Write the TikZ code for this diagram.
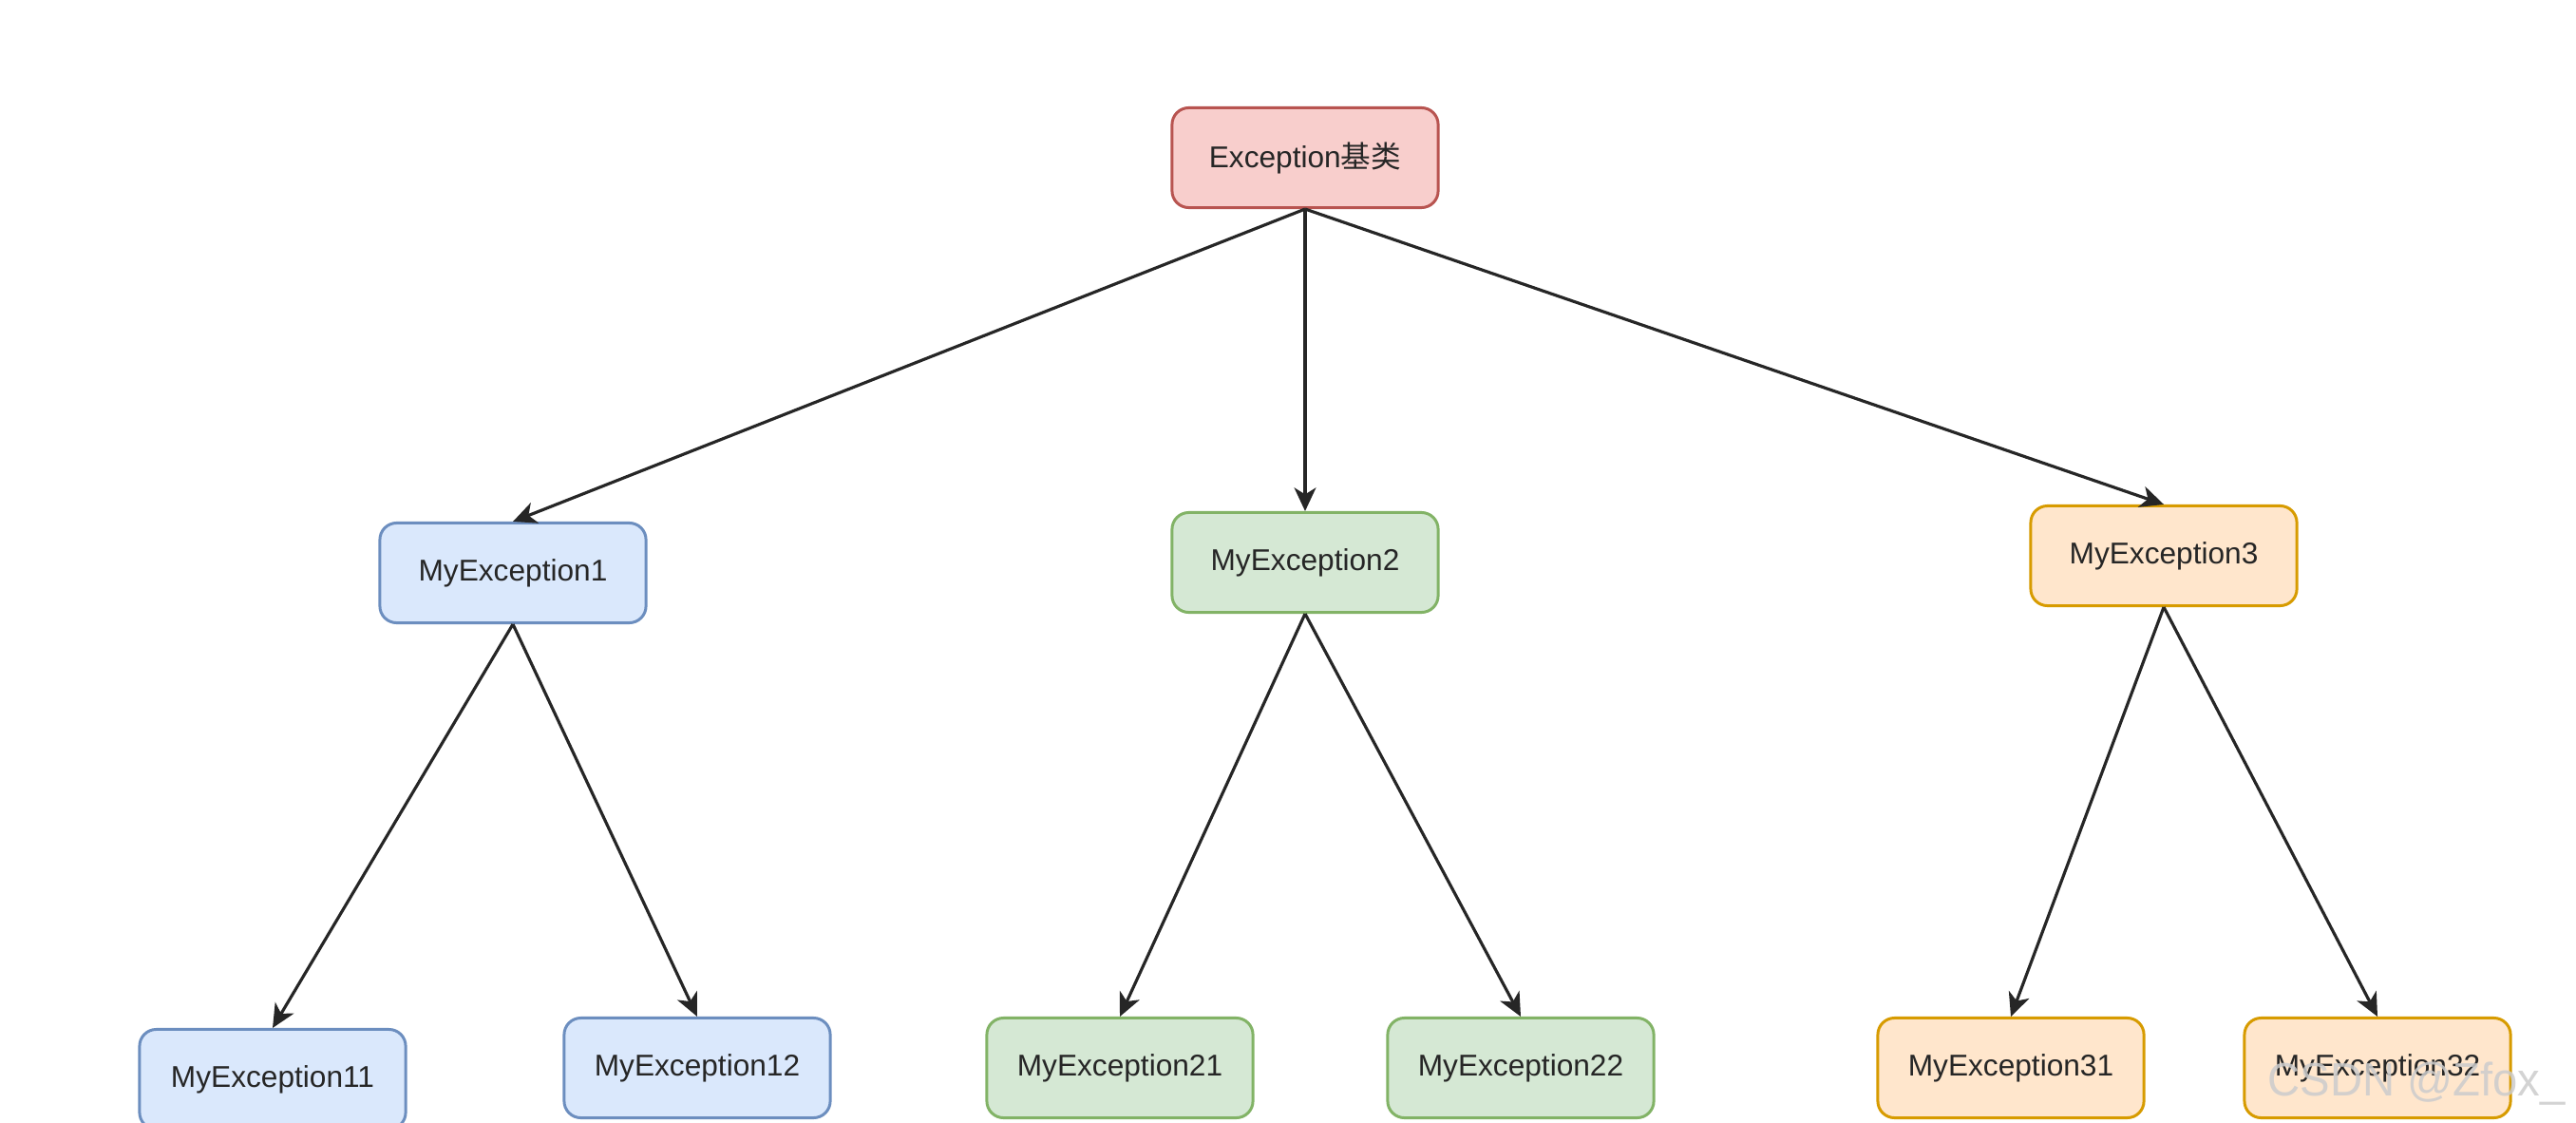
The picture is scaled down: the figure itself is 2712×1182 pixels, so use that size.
\documentclass[tikz,border=0pt]{standalone}
\usepackage{fontspec}
\setmainfont{Liberation Sans}
\newfontfamily\cjk{Noto Sans CJK SC}
\usetikzlibrary{arrows.meta}
\definecolor{redfill}{HTML}{F8CECC}\definecolor{redline}{HTML}{B85450}
\definecolor{bluefill}{HTML}{DAE8FC}\definecolor{blueline}{HTML}{6C8EBF}
\definecolor{greenfill}{HTML}{D5E8D4}\definecolor{greenline}{HTML}{82B366}
\definecolor{orangefill}{HTML}{FFE6CC}\definecolor{orangeline}{HTML}{D79B00}
\tikzset{
  box/.style={draw, rounded corners=5pt, line width=0.85pt, minimum width=2.8cm,
    minimum height=1.05cm, inner sep=0pt, font=\fontsize{9}{11}\selectfont, text=black!85},
  redbox/.style={box, fill=redfill, draw=redline},
  bluebox/.style={box, fill=bluefill, draw=blueline},
  greenbox/.style={box, fill=greenfill, draw=greenline},
  orangebox/.style={box, fill=orangefill, draw=orangeline},
  link/.style={line width=0.9pt, draw=black!85, -{Stealth[length=7pt,width=6.5pt,inset=2pt]}},
}
\begin{document}
\begin{tikzpicture}[x=0.01cm,y=-0.01cm]
\useasboundingbox[fill=white] (0,0) rectangle (2712,1182);
\node[redbox] (root) at (1374,166) {Exception{\cjk 基类}};
\node[bluebox] (e1) at (540,603) {MyException1};
\node[greenbox] (e2) at (1374,592) {MyException2};
\node[orangebox] (e3) at (2278,585) {MyException3};
\node[bluebox] (e11) at (287,1136) {MyException11};
\node[bluebox] (e12) at (734,1124) {MyException12};
\node[greenbox] (e21) at (1179,1124) {MyException21};
\node[greenbox] (e22) at (1601,1124) {MyException22};
\node[orangebox] (e31) at (2117,1124) {MyException31};
\node[orangebox] (e32) at (2503,1124) {MyException32};
\foreach \p/\c in {root/e1,root/e2,root/e3,e1/e11,e1/e12,e2/e21,e2/e22,e3/e31,e3/e32}
  \draw[link] (\p.south) -- (\c.north);
\node[text=gray!40, opacity=0.85, font=\fontsize{14}{16}\selectfont, anchor=base west, inner sep=0pt, xscale=0.96] (wm) at (2387,1153) {CSDN @Zfox\_};
\end{tikzpicture}
\end{document}
